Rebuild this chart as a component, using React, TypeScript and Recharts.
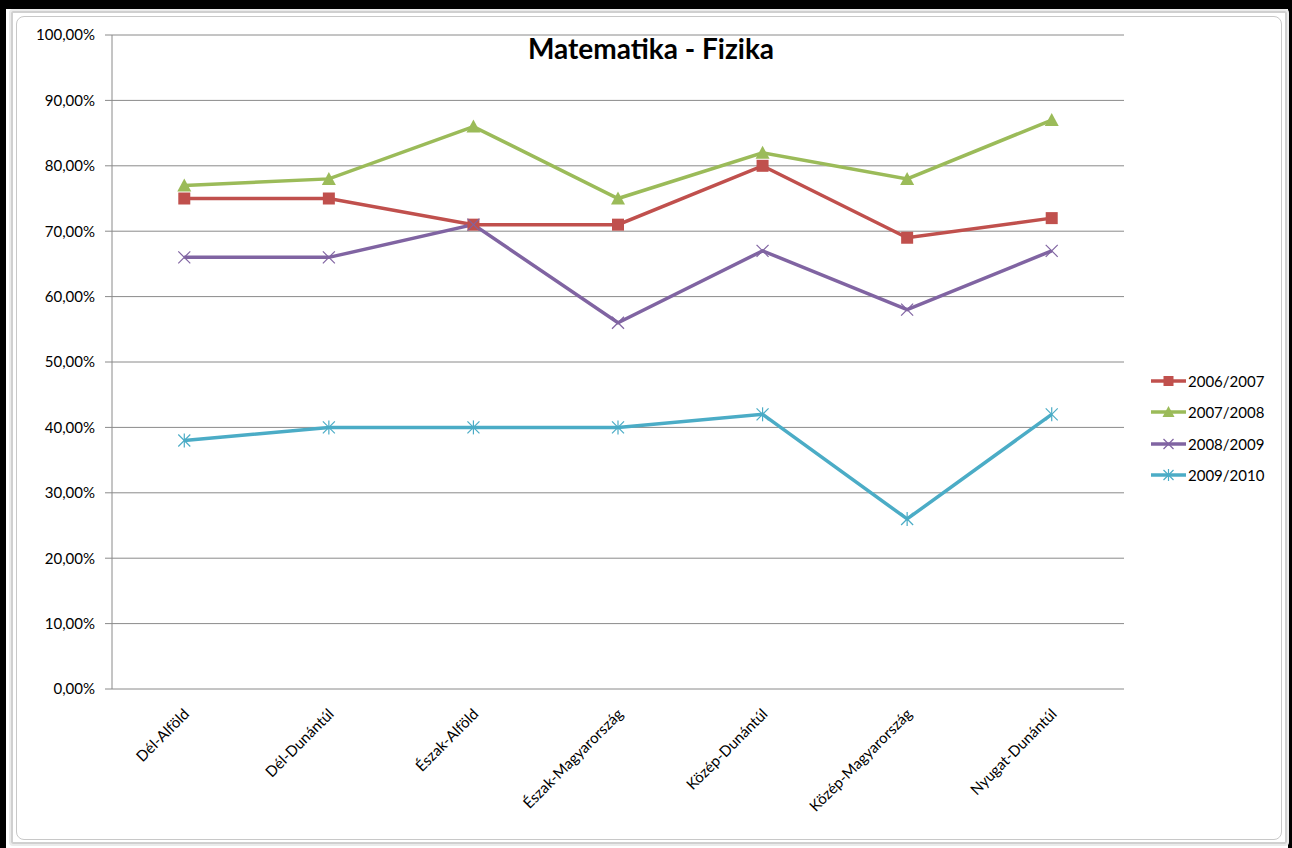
import { LineChart, Line, XAxis, YAxis, CartesianGrid, Legend } from "recharts";

const categories = [
  "Dél-Alföld",
  "Dél-Dunántúl",
  "Észak-Alföld",
  "Észak-Magyarország",
  "Közép-Dunántúl",
  "Közép-Magyarország",
  "Nyugat-Dunántúl",
];

const values0607 = [75, 75, 71, 71, 80, 69, 72];
const values0708 = [77, 78, 86, 75, 82, 78, 87];
const values0809 = [66, 66, 71, 56, 67, 58, 67];
const values0910 = [38, 40, 40, 40, 42, 26, 42];

const seriesNames = ["2006/2007", "2007/2008", "2008/2009", "2009/2010"];
const seriesColors = ["#C0504D", "#9BBB59", "#8064A2", "#4BACC6"];
const markerTypes = ["square", "triangle", "cross", "star"];

const yTicks = [0, 10, 20, 30, 40, 50, 60, 70, 80, 90, 100];
const boundTicks = [0, 1, 2, 3, 4, 5, 6, 7];

const FONT = "Lato, 'Open Sans', sans-serif";

const data = categories.map((name, i) => ({
  name,
  x: i + 0.5,
  s0: values0607[i],
  s1: values0708[i],
  s2: values0809[i],
  s3: values0910[i],
}));

function Marker({ type, cx, cy, color, size = 12 }: any) {
  const h = size / 2;
  if (type === "square") {
    return <rect x={cx - h} y={cy - h} width={size} height={size} fill={color} />;
  }
  if (type === "triangle") {
    return (
      <polygon
        points={`${cx},${cy - h - 1} ${cx + h + 1},${cy + h} ${cx - h - 1},${cy + h}`}
        fill={color}
      />
    );
  }
  if (type === "cross") {
    return (
      <g stroke={color} strokeWidth={1.2}>
        <line x1={cx - h} y1={cy - h} x2={cx + h} y2={cy + h} />
        <line x1={cx - h} y1={cy + h} x2={cx + h} y2={cy - h} />
      </g>
    );
  }
  return (
    <g stroke={color} strokeWidth={1.2}>
      <line x1={cx - h} y1={cy - h} x2={cx + h} y2={cy + h} />
      <line x1={cx - h} y1={cy + h} x2={cx + h} y2={cy - h} />
      <line x1={cx} y1={cy - h - 1} x2={cx} y2={cy + h + 1} />
    </g>
  );
}

function makeDot(idx: number) {
  return (props: any) => {
    const { cx, cy, index } = props;
    if (cx == null || cy == null) return <g key={`d${idx}-${index}`} />;
    return (
      <g key={`d${idx}-${index}`}>
        <Marker type={markerTypes[idx]} cx={cx} cy={cy} color={seriesColors[idx]} />
      </g>
    );
  };
}

function CategoryTick(props: any) {
  const { x, y, payload } = props;
  const label = categories[Math.floor(payload.value)];
  const ax = x + 6;
  const ay = y + 26;
  return (
    <text
      x={ax}
      y={ay}
      textAnchor="end"
      transform={`rotate(-45, ${ax}, ${ay})`}
      fontSize={15}
      fontFamily={FONT}
      fill="#000"
    >
      {label}
    </text>
  );
}

function LegendBox() {
  return (
    <div style={{ fontFamily: FONT, fontSize: 15, color: "#000" }}>
      {seriesNames.map((name, i) => (
        <div
          key={name}
          style={{ display: "flex", alignItems: "center", height: 31.5 }}
        >
          <svg width={38} height={16} style={{ display: "block" }}>
            <line x1={1} y1={8} x2={36} y2={8} stroke={seriesColors[i]} strokeWidth={3.5} />
            <Marker type={markerTypes[i]} cx={18.5} cy={8} color={seriesColors[i]} size={10} />
          </svg>
          <span style={{ marginLeft: 0 }}>{name}</span>
        </div>
      ))}
    </div>
  );
}

export default function App() {
  return (
    <div
      style={{
        position: "absolute",
        left: 0,
        top: 0,
        width: 1292,
        height: 848,
        background: "#fff",
        overflow: "hidden",
      }}
    >
      <div
        style={{
          position: "absolute",
          left: 0,
          top: 0,
          width: 1292,
          height: 9,
          background: "#000",
        }}
      />
      <div
        style={{
          position: "absolute",
          left: 0,
          top: 0,
          width: 6,
          height: 848,
          background: "#000",
        }}
      />
      <div
        style={{
          position: "absolute",
          right: 0,
          top: 0,
          width: 4,
          height: 848,
          background: "#000",
        }}
      />
      <div
        style={{
          position: "absolute",
          left: 11,
          top: 11,
          width: 1272,
          height: 829,
          border: "2px solid #d0d0d0",
          boxShadow: "0 0 0 2px #ebebeb",
          borderRadius: 2,
        }}
      />
      <div
        style={{
          position: "absolute",
          left: 16,
          top: 16,
          width: 1264,
          height: 822,
          border: "1px solid #c8c8c8",
          borderRadius: 8,
        }}
      />
      <div
        style={{
          position: "absolute",
          left: 0,
          top: 31,
          width: 1302,
          textAlign: "center",
          fontFamily: FONT,
          fontWeight: 700,
          fontSize: 28,
          color: "#000",
        }}
      >
        Matematika - Fizika
      </div>
      <div style={{ position: "absolute", left: 0, top: 0 }}>
        <LineChart
          width={1292}
          height={848}
          data={data}
          margin={{ top: 35, right: 168, bottom: 9, left: 12 }}
        >
          <CartesianGrid vertical={false} stroke="#8a8a8a" strokeWidth={1} />
          <XAxis
            xAxisId="bounds"
            dataKey="x"
            type="number"
            domain={[0, 7]}
            ticks={boundTicks}
            tickFormatter={() => ""}
            height={0}
            tickSize={7}
            stroke="#8a8a8a"
            tick={false}
            tickLine={{ stroke: "#8a8a8a" }}
          />
          <XAxis
            xAxisId="labels"
            dataKey="x"
            type="number"
            domain={[0, 7]}
            ticks={categories.map((_, i) => i + 0.5)}
            height={150}
            axisLine={false}
            tickLine={false}
            tickSize={0}
            tickMargin={0}
            interval={0}
            tick={<CategoryTick />}
          />
          <YAxis
            domain={[0, 100]}
            ticks={yTicks}
            width={100}
            tickSize={7}
            tickMargin={10}
            stroke="#8a8a8a"
            tickFormatter={(v: number) => `${v},00%`}
            tick={{ fontSize: 15, fontFamily: FONT, fill: "#000" }}
            interval={0}
          />
          <Legend
            layout="vertical"
            align="center"
            verticalAlign="middle"
            content={() => <LegendBox />}
            wrapperStyle={{ position: "absolute", left: 1150, top: 365, width: 130 }}
          />
          {["s0", "s1", "s2", "s3"].map((key, i) => (
            <Line
              key={key}
              xAxisId="bounds"
              dataKey={key}
              name={seriesNames[i]}
              stroke={seriesColors[i]}
              strokeWidth={3.5}
              dot={makeDot(i)}
              activeDot={false}
              isAnimationActive={false}
            />
          ))}
        </LineChart>
      </div>
    </div>
  );
}
